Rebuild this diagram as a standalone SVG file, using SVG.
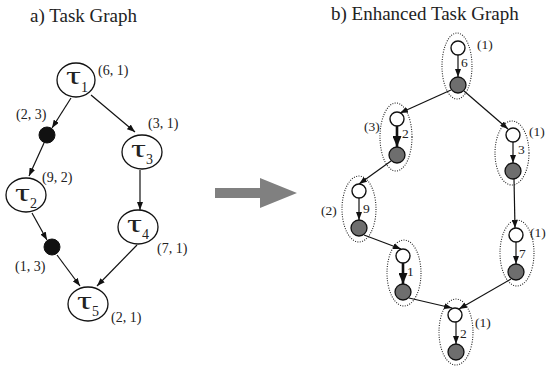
<svg xmlns="http://www.w3.org/2000/svg" width="547" height="366" viewBox="0 0 547 366">
<style>
text{font-family:"Liberation Serif","Times New Roman",serif;fill:#222}
.title{font-size:19px}
.lbl{font-size:14px}
.rl{font-size:13.5px}
.tau{font-size:25px}
.sub{font-size:14px}
.tn{fill:#fff;stroke:#111;stroke-width:1.3}
.dot{fill:#111;stroke:#111}
.wc{fill:#fff;stroke:#111;stroke-width:1.4}
.gc{fill:#6e6e6e;stroke:#111;stroke-width:1.3}
.grp{fill:none;stroke:#222;stroke-width:1.1;stroke-dasharray:1 1.4}
.e{fill:none;stroke:#111;stroke-width:1.2;marker-end:url(#arr)}
.et{fill:none;stroke:#111;stroke-width:2.6;marker-end:url(#arrT)}
</style>
<defs>
<marker id="arr" markerUnits="userSpaceOnUse" markerWidth="8" markerHeight="6" refX="8" refY="3" orient="auto"><path d="M0,0 L8,3 L0,6 z" fill="#111"/></marker>
<marker id="arrT" markerUnits="userSpaceOnUse" markerWidth="11" markerHeight="9" refX="11" refY="4.5" orient="auto"><path d="M0,0 L11,4.5 L0,9 z" fill="#111"/></marker>
</defs>

<text class="title" x="30" y="22">a) Task Graph</text>
<text class="title" x="331" y="20">b) Enhanced Task Graph</text>

<!-- big gray arrow -->
<path d="M215,188 H260 V178 L297,193 L260,208 V198 H215 z" fill="#808080"/>

<!-- left graph connectors -->
<g id="left-edges">
<line class="e" x1="71" y1="98" x2="52" y2="128"/>
<line class="e" x1="44" y1="143" x2="29" y2="176"/>
<line class="e" x1="91" y1="95" x2="135" y2="132"/>
<line class="e" x1="140" y1="170" x2="140" y2="210"/>
<line class="e" x1="32" y1="213" x2="47" y2="240"/>
<line class="e" x1="57" y1="255" x2="80" y2="286"/>
<line class="e" x1="137" y1="245" x2="97" y2="286"/>
</g>

<g id="t1"><ellipse class="tn" cx="76" cy="80" rx="19" ry="17"/><text class="tau" x="66" y="84" textLength="15" lengthAdjust="spacingAndGlyphs">τ</text><text class="sub" x="81" y="92">1</text><text class="lbl" x="98" y="75">(6, 1)</text></g>
<g id="d1"><circle class="dot" cx="47" cy="135" r="8"/><text class="lbl" x="16" y="119">(2, 3)</text></g>
<g id="t2"><ellipse class="tn" cx="26" cy="195" rx="20" ry="17"/><text class="tau" x="15" y="201" textLength="15" lengthAdjust="spacingAndGlyphs">τ</text><text class="sub" x="30" y="208">2</text><text class="lbl" x="42" y="182">(9, 2)</text></g>
<g id="t3"><ellipse class="tn" cx="142" cy="152" rx="20" ry="17"/><text class="tau" x="131" y="157" textLength="15" lengthAdjust="spacingAndGlyphs">τ</text><text class="sub" x="146" y="164">3</text><text class="lbl" x="148" y="128">(3, 1)</text></g>
<g id="t4"><ellipse class="tn" cx="138" cy="227" rx="20" ry="17"/><text class="tau" x="127" y="232" textLength="15" lengthAdjust="spacingAndGlyphs">τ</text><text class="sub" x="142" y="239">4</text><text class="lbl" x="157" y="253">(7, 1)</text></g>
<g id="d2"><circle class="dot" cx="52" cy="247" r="8"/><text class="lbl" x="15" y="271">(1, 3)</text></g>
<g id="t5"><ellipse class="tn" cx="88" cy="304" rx="20" ry="17"/><text class="tau" x="77" y="309" textLength="15" lengthAdjust="spacingAndGlyphs">τ</text><text class="sub" x="92" y="316">5</text><text class="lbl" x="111" y="322">(2, 1)</text></g>

<!-- right graph connectors -->
<g id="right-edges">
<line class="e" x1="451" y1="90" x2="400" y2="113"/>
<line class="e" x1="464" y1="91" x2="508" y2="129"/>
<line class="e" x1="391" y1="161" x2="359" y2="184"/>
<line class="e" x1="364" y1="235" x2="401" y2="249"/>
<line class="e" x1="409" y1="298" x2="452" y2="308"/>
<line class="e" x1="514" y1="179" x2="515" y2="228"/>
<line class="e" x1="511" y1="279" x2="459" y2="309"/>
</g>

<g id="c1"><ellipse class="grp" cx="457" cy="66" rx="15" ry="33"/><circle class="wc" cx="458" cy="48" r="7"/><circle class="gc" cx="458" cy="85" r="8"/><line class="e" x1="458" y1="55" x2="458" y2="77"/><text class="rl" x="461" y="67">6</text><text class="rl" x="477" y="49">(1)</text></g>
<g id="c2"><ellipse class="grp" cx="396" cy="137" rx="16" ry="34"/><circle class="wc" cx="397" cy="119" r="7"/><circle class="gc" cx="397" cy="155" r="8"/><line class="et" x1="397" y1="126" x2="397" y2="147"/><text class="rl" x="402" y="138">2</text><text class="rl" x="364" y="131">(3)</text></g>
<g id="c3"><ellipse class="grp" cx="512" cy="153" rx="17" ry="32"/><circle class="wc" cx="513" cy="135" r="7"/><circle class="gc" cx="513" cy="171" r="8"/><line class="e" x1="513" y1="142" x2="513" y2="163"/><text class="rl" x="518" y="154">3</text><text class="rl" x="529" y="136">(1)</text></g>
<g id="c4"><ellipse class="grp" cx="359" cy="209" rx="17" ry="33"/><circle class="wc" cx="359" cy="191" r="7"/><circle class="gc" cx="359" cy="228" r="8"/><line class="e" x1="359" y1="198" x2="359" y2="220"/><text class="rl" x="363" y="213">9</text><text class="rl" x="321" y="215">(2)</text></g>
<g id="c5"><ellipse class="grp" cx="404" cy="273" rx="17" ry="33"/><circle class="wc" cx="403" cy="256" r="7"/><circle class="gc" cx="403" cy="292" r="8"/><line class="et" x1="403" y1="263" x2="403" y2="284"/><text class="rl" x="407" y="276">1</text></g>
<g id="c6"><ellipse class="grp" cx="517" cy="253" rx="17" ry="33"/><circle class="wc" cx="516" cy="235" r="7"/><circle class="gc" cx="516" cy="272" r="8"/><line class="e" x1="516" y1="242" x2="516" y2="264"/><text class="rl" x="519" y="258">7</text><text class="rl" x="530" y="237">(1)</text></g>
<g id="c7"><ellipse class="grp" cx="456" cy="332" rx="17" ry="33"/><circle class="wc" cx="455" cy="315" r="7"/><circle class="gc" cx="456" cy="352" r="8"/><line class="e" x1="456" y1="322" x2="456" y2="344"/><text class="rl" x="460" y="338">2</text><text class="rl" x="475" y="327">(1)</text></g>
</svg>
